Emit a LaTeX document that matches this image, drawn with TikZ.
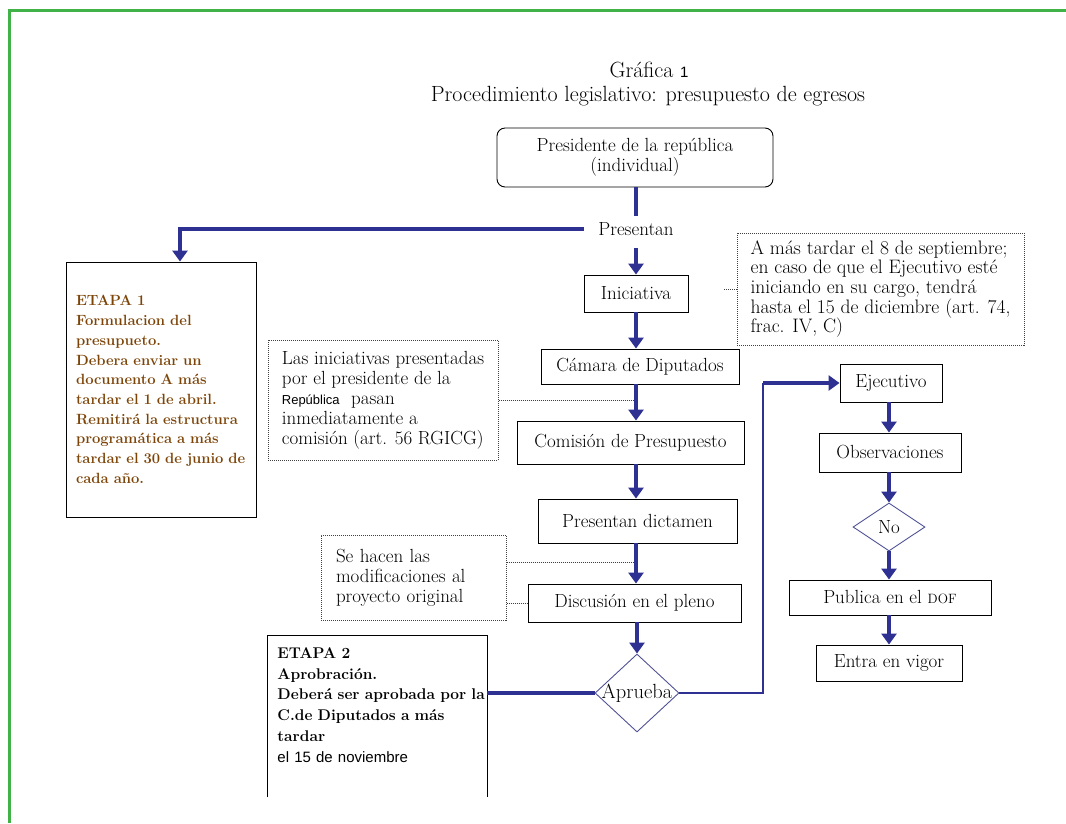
\documentclass[tikz,border=0pt]{standalone}
\usepackage{fontspec}
\usepackage{tikz}
\usetikzlibrary{arrows.meta,shapes.geometric}
\newfontfamily\arialfont{Liberation Sans}
\definecolor{flowblue}{RGB}{46,49,146}
\definecolor{diablue}{RGB}{80,82,150}
\definecolor{etapabrown}{RGB}{125,68,8}
\definecolor{framegreen}{RGB}{64,178,72}
\newcommand{\txt}{\fontsize{19}{20}\selectfont}
\newcommand{\notetxt}{\fontsize{19.5}{19.6}\selectfont}
\newcommand{\etapaone}{\fontsize{14.8}{19.7}\selectfont\bfseries}
\newcommand{\etapatwo}{\fontsize{15.5}{20.8}\selectfont\bfseries}

\tikzset{
  box/.style={draw, line width=0.9pt, inner sep=0pt, font=\txt, align=center},
  note/.style={draw=black!75, densely dotted, line width=1pt, inner sep=0pt, font=\txt, align=left},
  etapa/.style={draw, line width=0.9pt, inner xsep=10pt, inner ysep=0pt, align=left},
  flow/.style={draw=flowblue, line width=3.5pt, -{Triangle[length=11pt,width=15pt]}},
  flowline/.style={draw=flowblue, line width=3.5pt},
  dia/.style={diamond, draw=diablue, line width=0.9pt, inner sep=0pt},
  noteline/.style={draw=black!75, densely dotted, line width=1pt}
}

\begin{document}
\begin{tikzpicture}[x=1pt,y=-1pt]
  \useasboundingbox (0,0) rectangle (1066,823);
  \draw[framegreen, line width=3pt] (9,823) -- (9,10) -- (1066,10);

  \node[font=\fontsize{22}{22}\selectfont] (tit1) at (649,70) {Gráfica {\arialfont\fontsize{15}{15}\selectfont 1}};
  \node[font=\fontsize{22}{22}\selectfont] (tit2) at (648,96) {Procedimiento legislativo: presupuesto de egresos};

  \coordinate (col) at (636,0);
  \coordinate (col2) at (889,0);
  \coordinate (bend) at (763,383);

  \node[box, rounded corners=8pt, minimum width=276pt, minimum height=59pt] (prs) at (635,157.5) {Presidente de la república\\(individual)};
  \node[font=\txt, inner xsep=14pt, inner ysep=6pt] (pres) at (636,229) {Presentan};
  \node[etapa, text width=170pt, minimum height=255pt, font=\etapaone, text=etapabrown] (e1) at (161,389.5)
    {ETAPA 1\\Formulacion del\\presupueto.\\Debera enviar un\\documento A más\\tardar el 1 de abril.\\Remitirá la estructura\\programática a más\\tardar el 30 de junio de\\cada año.};
  \node[box, minimum width=104pt, minimum height=37pt] (ini) at (636,293.5) {Iniciativa};
  \node[note, font=\notetxt, minimum width=287pt, minimum height=112pt] (am) at (880.5,289)
    {A más tardar el 8 de septiembre;\\en caso de que el Ejecutivo esté\\iniciando en su cargo, tendrá\\hasta el 15 de diciembre (art. 74,\\frac. IV, C)};
  \node[box, minimum width=198pt, minimum height=35pt] (cam) at (640,366.5) {Cámara de Diputados};
  \node[note, minimum width=230pt, minimum height=120pt] (la) at (383,400)
    {Las iniciativas presentadas\\por el presidente de la\\{\arialfont\fontsize{13}{13}\selectfont República}\ \ pasan\\inmediatamente a\\comisión (art. 56 RGICG)};
  \node[box, minimum width=227pt, minimum height=43pt] (com) at (630.5,442.5) {Comisión de Presupuesto};
  \node[box, minimum width=199pt, minimum height=44pt] (dic) at (637.5,521) {Presentan dictamen};
  \node[note, text width=155pt, inner xsep=15pt, minimum height=85pt] (se) at (413.5,577.5) {Se hacen las\\modificaciones al\\proyecto original};
  \node[box, minimum width=213pt, minimum height=38pt] (dis) at (634.5,603) {Discusión en el pleno};
  \node[dia, minimum width=84pt, minimum height=78pt, label=center:{\fontsize{20.5}{20.5}\selectfont Aprueba}] (ap) at (637,693) {};
  \node[etapa, draw=none, anchor=north west, text width=212pt, inner ysep=12pt, font=\etapatwo] (e2) at (267,635)
    {ETAPA 2\\Aprobración.\\Deberá ser aprobada por la\\C.de Diputados a más\\tardar\\{\arialfont\mdseries\fontsize{15}{20.8}\selectfont el 15 de noviembre}};
  \coordinate (e2r) at ([xshift=220pt]e2.north west);
  \draw[line width=0.9pt] (e2.north west) ++(0,162) -- (e2.north west) -- (e2r) -- ++(0,162);

  \node[box, minimum width=102pt, minimum height=38pt] (ej) at (891,383) {Ejecutivo};
  \node[box, minimum width=142pt, minimum height=39pt] (obs) at (890,452.5) {Observaciones};
  \node[dia, minimum width=72pt, minimum height=48pt, label=center:{\txt No}] (no) at (889,527) {};
  \node[box, minimum width=202pt, minimum height=35pt] (pub) at (890,597.5) {Publica en el {\fontsize{13.5}{13.5}\selectfont DOF}};
  \node[box, minimum width=146pt, minimum height=36pt] (ent) at (889,663) {Entra en vigor};

  \draw[flowline] (prs.south -| col) -- (pres.north -| col);
  \draw[flow] (pres.west) -| ([xshift=19pt]e1.north);
  \draw[flow, shorten <=6pt] (pres.south -| col) -- (ini.north -| col);
  \draw[flow] (ini.south -| col) -- (cam.north -| col);
  \draw[flow] (cam.south -| col) -- (com.north -| col);
  \draw[flow] (com.south -| col) -- (dic.north -| col);
  \draw[flow] (dic.south -| col) -- (dis.north -| col);
  \draw[flow] (dis.south -| ap) -- (ap.north);
  \draw[flowline] (ap.west) -- (ap.west -| e2r);
  \draw[flowblue, line width=1.2pt] (ap.east) -| (bend);
  \draw[flow] (bend) -- (ej.west);
  \draw[flow] (ej.south -| col2) -- (obs.north -| col2);
  \draw[flow] (obs.south -| col2) -- (no.north);
  \draw[flow] (no.south) -- (pub.north -| no);
  \draw[flow] (pub.south -| col2) -- (ent.north -| col2);

  \draw[noteline] (am.west) -- ++(-13,0);
  \draw[noteline] (la.east) -- (la.east -| col);
  \draw[noteline] ([yshift=15pt]se.east) -- ([yshift=15pt]se.east -| col);
  \draw[noteline] (se.east |- dis.west) -- (dis.west);
\end{tikzpicture}
\end{document}
